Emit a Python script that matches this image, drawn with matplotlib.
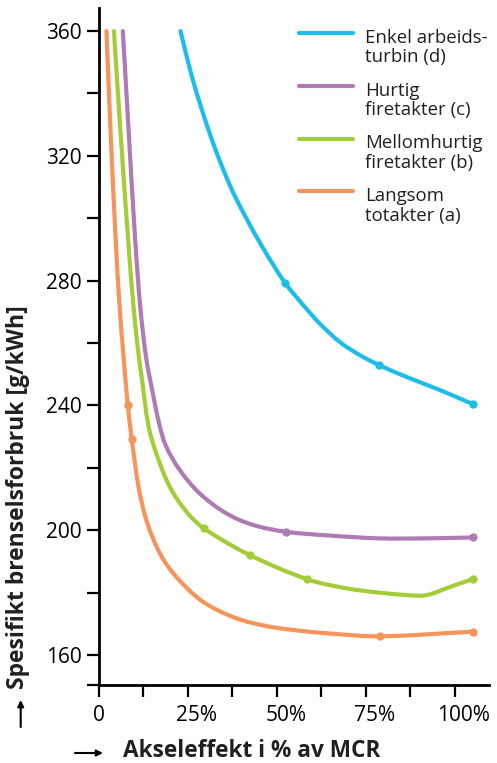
import matplotlib
matplotlib.use("Agg")
import numpy as np
import matplotlib.pyplot as plt
from matplotlib.lines import Line2D
from matplotlib.path import Path
from matplotlib.patches import PathPatch
from matplotlib.ticker import FixedLocator
import matplotlib.transforms as mtransforms

plt.rcParams['font.family'] = ['Open Sans', 'DejaVu Sans']

# Specific fuel consumption [g/kWh] versus shaft power [% of MCR]
# (d) simple-cycle gas turbine
turbine_x = [22.9, 26.0, 28.8, 31.6, 34.4, 37.6, 41.4, 45.6, 49.4, 52.4, 56.4, 62.0, 67.6, 73.2, 78.6, 86.3, 95.7, 105.1]
turbine_y = [360.0, 345.9, 335.2, 325.6, 317.1, 308.5, 300.0, 291.4, 284.3, 279.1, 273.5, 266.3, 260.4, 256.2, 253.0, 249.2, 245.0, 240.4]
turbine_mx = [52.4, 78.6, 105.1]
turbine_my = [279.1, 253.0, 240.4]

# (c) high-speed four-stroke
fast4_x = [6.7, 8.4, 10.2, 11.6, 13.2, 14.4, 17.0, 18.9, 22.7, 28.3, 35.8, 43.3, 52.6, 64.8, 78.8, 92.0, 105.1]
fast4_y = [360.0, 326.7, 292.5, 271.6, 255.6, 248.1, 233.7, 226.8, 219.3, 211.8, 205.4, 201.7, 199.5, 198.3, 197.4, 197.4, 197.7]
fast4_mx = [52.6, 105.1]
fast4_my = [199.5, 197.7]

# (b) medium-speed four-stroke
medium4_x = [4.2, 6.1, 8.2, 9.7, 11.2, 12.1, 13.9, 16.1, 19.9, 24.6, 29.5, 42.3, 58.5, 69.5, 78.8, 90.1, 93.4, 97.6, 105.1]
medium4_y = [360.0, 326.7, 293.0, 271.6, 255.6, 248.1, 233.5, 224.6, 213.9, 205.9, 200.6, 192.1, 184.3, 181.4, 180.0, 179.0, 179.6, 181.4, 184.4]
medium4_mx = [29.5, 42.3, 58.5, 105.1]
medium4_my = [200.6, 192.1, 184.3, 184.4]

# (a) slow-speed two-stroke
slow2_x = [2.1, 3.3, 4.7, 5.8, 6.9, 8.1, 9.2, 10.0, 11.1, 13.3, 17.1, 21.7, 29.2, 38.6, 47.9, 56.4, 64.8, 78.9, 105.1]
slow2_y = [360.0, 326.7, 293.0, 271.6, 255.6, 240.1, 229.1, 222.5, 213.9, 203.3, 192.6, 185.1, 177.1, 171.8, 169.1, 167.8, 166.9, 166.0, 167.5]
slow2_mx = [8.1, 9.2, 78.9, 105.1]
slow2_my = [240.1, 229.1, 166.0, 167.5]

series_labels = ["Enkel arbeids-\nturbin (d)", "Hurtig\nfiretakter (c)",
                 "Mellomhurtig\nfiretakter (b)", "Langsom\ntotakter (a)"]
series_colors = ["#1DBDEB", "#B07AB4", "#A4CC38", "#F6945A"]

x_ticks = [0, 25, 50, 75, 100]
x_tick_labels = ["0", "25%", "50%", "75%", "100%"]
x_minor = [12.5, 37.5, 62.5, 87.5]
y_ticks = [160, 200, 240, 280, 320, 360]
y_minor = [180, 220, 260, 300, 340]

x_title = "Akseleffekt i % av MCR"
y_title = "Spesifikt brenselsforbruk [g/kWh]"

W, H = 497, 763
fig = plt.figure(figsize=(W / 100, H / 100), dpi=100)
ax = fig.add_axes([99 / W, 1 - 685 / H, (489 - 99) / W, (685 - 8) / H])
ax.set_xlim(0, 109.6)
ax.set_ylim(150.4, 367.4)


def smooth_path(xs, ys):
    """Cubic Bezier path passing through every given point (chord-length Hermite)."""
    pts = ax.transData.transform(np.column_stack([xs, ys]))
    n = len(pts)
    seg = np.linalg.norm(np.diff(pts, axis=0), axis=1)
    tang = np.zeros_like(pts)
    for i in range(n):
        a = pts[max(i - 1, 0)]
        b = pts[min(i + 1, n - 1)]
        la = seg[i - 1] if i > 0 else 0.0
        lb = seg[i] if i < n - 1 else 0.0
        tang[i] = (b - a) / (la + lb)
    verts = [pts[0]]
    codes = [Path.MOVETO]
    for i in range(n - 1):
        d = seg[i] / 3.0
        verts += [pts[i] + tang[i] * d, pts[i + 1] - tang[i + 1] * d, pts[i + 1]]
        codes += [Path.CURVE4] * 3
    verts = ax.transData.inverted().transform(np.array(verts))
    return Path(verts, codes)


curves = [
    (turbine_x, turbine_y, turbine_mx, turbine_my),
    (fast4_x, fast4_y, fast4_mx, fast4_my),
    (medium4_x, medium4_y, medium4_mx, medium4_my),
    (slow2_x, slow2_y, slow2_mx, slow2_my),
]
for (xs, ys, mx, my), col in zip(curves, series_colors):
    patch = PathPatch(smooth_path(xs, ys), facecolor='none', edgecolor=col,
                      lw=3.0, capstyle='round', joinstyle='round',
                      clip_on=False, zorder=3, transform=ax.transData)
    ax.add_patch(patch)
    ax.plot(mx, my, 'o', color=col, ms=6, mec='none', clip_on=False, zorder=4)

for side in ('top', 'right'):
    ax.spines[side].set_visible(False)
for side in ('left', 'bottom'):
    ax.spines[side].set_linewidth(2.0)
    ax.spines[side].set_color('black')

ax.xaxis.set_major_locator(FixedLocator(x_ticks))
ax.xaxis.set_minor_locator(FixedLocator(x_minor))
ax.yaxis.set_major_locator(FixedLocator(y_ticks))
ax.yaxis.set_minor_locator(FixedLocator(y_minor + [ax.get_ylim()[0]]))
ax.set_xticklabels(x_tick_labels)
ax.tick_params(axis='both', which='both', direction='out', length=8.5,
               width=1.6, color='black')
ax.tick_params(axis='x', which='major', labelsize=15, pad=6)
ax.tick_params(axis='y', which='major', labelsize=15, pad=4)

# keep the numeral centred on its tick, with the percent sign hanging right
shift = mtransforms.ScaledTranslation(6.5 / 72, 0, fig.dpi_scale_trans)
for lbl in ax.get_xticklabels():
    if lbl.get_text().endswith('%'):
        lbl.set_transform(lbl.get_transform() + shift)

# legend drawn as handle lines with two-line labels beside them
for i, (lab, col) in enumerate(zip(series_labels, series_colors)):
    yc = 33.3 + i * 52.7
    fig.add_artist(Line2D([299 / W, 353 / W], [1 - yc / H, 1 - yc / H],
                          color=col, lw=3.0, solid_capstyle='round',
                          transform=fig.transFigure))
    fig.text(365 / W, 1 - (yc + 7.5 + 21.6) / H, lab, fontsize=13.4,
             va='baseline', ha='left', linespacing=1.1, color='#231F20')

# axis titles with direction arrows
fig.text(18 / W, 1 - 497 / H, y_title, rotation=90, ha='center', va='center',
         fontsize=16.5, fontweight='bold', color='#231F20')
fig.text(123 / W, 1 - 751 / H, x_title, ha='left', va='center',
         fontsize=16.3, fontweight='bold', color='#231F20')

arrow_kw = dict(arrowstyle='-|>', lw=1.5, color='black', mutation_scale=9,
                shrinkA=0, shrinkB=0)
ax.annotate('', xy=(103, H - 753), xytext=(75, H - 753),
            xycoords='figure pixels', textcoords='figure pixels',
            arrowprops=arrow_kw, annotation_clip=False)
ax.annotate('', xy=(20.7, H - 700), xytext=(20.7, H - 727),
            xycoords='figure pixels', textcoords='figure pixels',
            arrowprops=arrow_kw, annotation_clip=False)

fig.savefig('out.png', dpi=100)
